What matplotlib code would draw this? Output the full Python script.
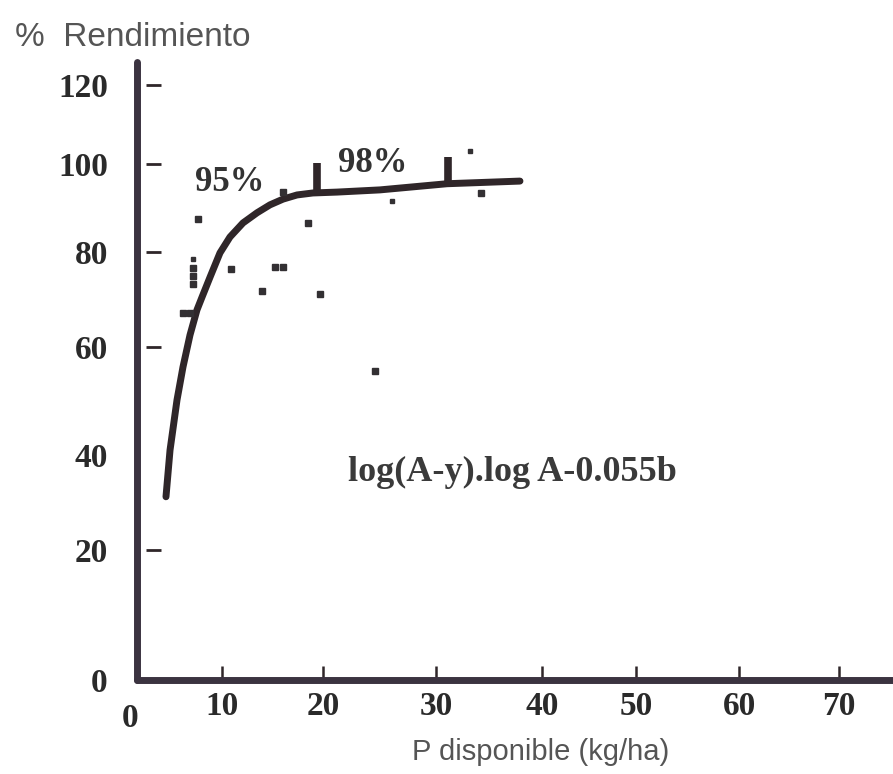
import numpy as np
import matplotlib
matplotlib.use("Agg")
import matplotlib.pyplot as plt
import matplotlib.transforms as mtransforms

# ---------------- data ----------------
curve_x = [3.91, 4.35, 5.11, 5.76, 6.52, 7.28, 7.83, 8.70, 9.78, 10.79,
           12.08, 13.47, 14.75, 16.04, 17.43, 19.0, 21.24, 25.04, 31.04, 37.92]
curve_y = [31.2, 40.9, 50.2, 56.3, 62.5, 67.8, 70.5, 74.7, 79.8, 83.4,
           86.6, 88.9, 90.7, 92.0, 92.95, 93.4, 93.6, 94.1, 95.5, 96.1]

points_x = [7.39, 18.51, 10.89, 15.25, 16.04, 13.96, 19.7, 6.85, 6.85, 6.85,
            5.76, 6.52, 16.04, 24.6, 34.25]
points_y = [87.5, 86.6, 76.4, 76.8, 76.8, 71.8, 71.2, 76.6, 75.0, 73.3,
            67.2, 67.2, 93.6, 55.6, 93.4]

small_x = [6.85, 26.1, 33.2]
small_y = [78.6, 91.6, 103.3]

limit_x = [19.4, 31.1]
limit_top = [100.2, 101.8]
limit_bottom = [93.4, 95.5]
limit_labels = ["95%", "98%"]

xticks = [10, 20, 30, 40, 50, 60, 70]
xtick_labels = ["10", "20", "30", "40", "50", "60", "70"]
yticks = [0, 20, 40, 60, 80, 100, 120]
ytick_labels = ["0", "20", "40", "60", "80", "100", "120"]
ydash_ticks = [20, 60, 80, 100, 120]

equation = "log(A-y).log A-0.055b"
ylabel = "%  Rendimiento"
xlabel = "P disponible (kg/ha)"

# ---- calibration of the (unevenly printed) scanned axes ----
x_cal_val = [0, 10, 20, 30, 40, 50, 60, 70]
x_cal_pos = [130, 222, 323, 436, 542, 636, 739, 839]
y_cal_val = [0, 20, 40, 60, 80, 100, 120]
y_cal_pos = [94, 224, 319, 427, 522, 610, 689]


def make_scale(vals, pos):
    v = np.asarray(vals, float)
    p = np.asarray(pos, float)
    s0 = (p[1] - p[0]) / (v[1] - v[0])
    s1 = (p[-1] - p[-2]) / (v[-1] - v[-2])
    ve = np.concatenate([[v[0] - 1000], v, [v[-1] + 1000]])
    pe = np.concatenate([[p[0] - 1000 * s0], p, [p[-1] + 1000 * s1]])

    def fwd(x):
        return np.interp(x, ve, pe)

    def inv(y):
        return np.interp(y, pe, ve)
    return fwd, inv


INK = "#2f2629"
AXIS = "#3b3340"
LABEL = "#2a2a2a"

fig = plt.figure(figsize=(8.93, 7.74), dpi=100)
ax = fig.add_axes([137 / 893, 1 - 680 / 774, 1 - 137 / 893, (680 - 62) / 774])
ax.set_xscale("function", functions=make_scale(x_cal_val, x_cal_pos))
ax.set_yscale("function", functions=make_scale(y_cal_val, y_cal_pos))
ax.set_xlim(0.76, 75.4)
ax.set_ylim(0, 125.8)

for s in ["top", "right"]:
    ax.spines[s].set_visible(False)
for s in ["left", "bottom"]:
    ax.spines[s].set_linewidth(5)
    ax.spines[s].set_color(AXIS)
    ax.spines[s].set_capstyle("round")

serif = "Liberation Serif"
tick_fs = 24

ax.set_xticks(xticks)
ax.set_xticklabels(xtick_labels, fontfamily=serif, fontweight="bold",
                   fontsize=tick_fs, color=LABEL)
ax.set_yticks(yticks)
ax.set_yticklabels(ytick_labels, fontfamily=serif, fontweight="bold",
                   fontsize=tick_fs, color=LABEL)
ax.tick_params(axis="x", direction="in", length=10, width=1.8, color=INK, pad=8)
ax.tick_params(axis="y", length=0, pad=21)
ax.minorticks_off()

# x "0" label sits just left of the vertical axis
bt = mtransforms.blended_transform_factory(ax.transData, ax.transAxes)
ax.text(0, -0.063, "0", transform=bt, ha="center", va="center",
        fontfamily=serif, fontweight="bold", fontsize=tick_fs, color=LABEL,
        clip_on=False)

# small dashes next to the y axis
yt = mtransforms.blended_transform_factory(ax.transAxes, ax.transData)
ax.hlines(ydash_ticks, 0.012, 0.032, transform=yt, colors=INK, linewidth=2)

# response curve
ax.plot(curve_x, curve_y, color=INK, linewidth=5, solid_capstyle="round",
        solid_joinstyle="round", zorder=3)

# limit markers on the curve
ax.vlines(limit_x, limit_bottom, limit_top, colors=INK, linewidth=5.5, zorder=3)

# observations
ax.plot(points_x, points_y, linestyle="none", marker="s", markersize=4.8,
        color="#333033", zorder=4)
ax.plot(small_x, small_y, linestyle="none", marker="s", markersize=2.2,
        color="#333033", zorder=4)

# annotations
ax.text(10.8, 95.7, limit_labels[0], ha="center", va="center",
        fontfamily=serif, fontsize=25, color="#333", fontweight="bold")
ax.text(24.4, 100.0, limit_labels[1], ha="center", va="center",
        fontfamily=serif, fontsize=25, color="#333", fontweight="bold")
ax.text(37.2, 36.4, equation, ha="center", va="center",
        fontfamily=serif, fontsize=26, color="#3a3a3a", fontweight="bold")

fig.text(15 / 893, 1 - 46 / 774, ylabel, ha="left", va="baseline",
         fontfamily="Liberation Sans", fontsize=24, color="#555555")
fig.text(541 / 893, 1 - 760 / 774, xlabel, ha="center", va="baseline",
         fontfamily="Liberation Sans", fontsize=21, color="#555555")

fig.savefig("out.png", dpi=100)
